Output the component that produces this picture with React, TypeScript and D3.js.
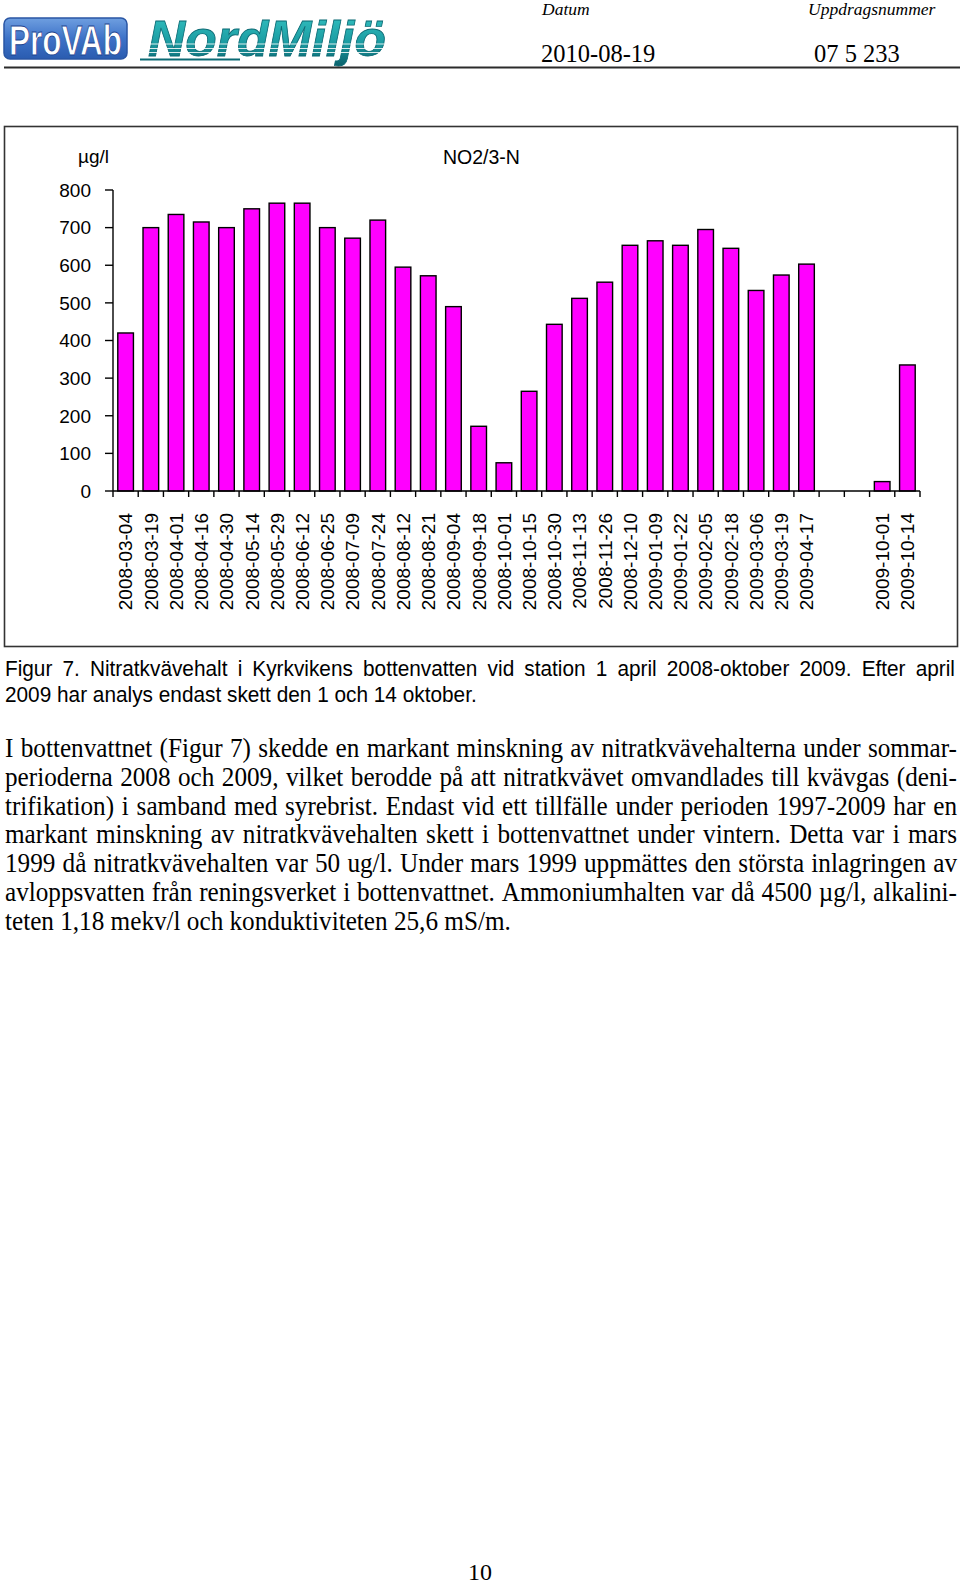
import React from 'react';
import * as d3 from 'd3';

// ---------- data ----------
const dates: string[] = [
  '2008-03-04', '2008-03-19', '2008-04-01', '2008-04-16', '2008-04-30', '2008-05-14',
  '2008-05-29', '2008-06-12', '2008-06-25', '2008-07-09', '2008-07-24', '2008-08-12',
  '2008-08-21', '2008-09-04', '2008-09-18', '2008-10-01', '2008-10-15', '2008-10-30',
  '2008-11-13', '2008-11-26', '2008-12-10', '2009-01-09', '2009-01-22', '2009-02-05',
  '2009-02-18', '2009-03-06', '2009-03-19', '2009-04-17', '', '', '2009-10-01', '2009-10-14',
];
const values: (number | null)[] = [
  420, 700, 735, 715, 700, 750, 765, 765, 700, 672, 720, 595, 572, 490, 172, 75,
  265, 443, 512, 555, 653, 665, 653, 695, 645, 533, 574, 603, null, null, 25, 335,
];
const yTicks: number[] = [0, 100, 200, 300, 400, 500, 600, 700, 800];
const yUnit = 'µg/l';
const chartTitle = 'NO2/3-N';

const headerLabels = ['Datum', 'Uppdragsnummer'];
const headerValues = ['2010-08-19', '07 5 233'];

const captionLines = [
  'Figur 7. Nitratkvävehalt i Kyrkvikens bottenvatten vid station 1 april 2008-oktober 2009. Efter april',
  '2009 har analys endast skett den 1 och 14 oktober.',
];
const bodyLines = [
  'I bottenvattnet (Figur 7) skedde en markant minskning av nitratkvävehalterna under sommar-',
  'perioderna 2008 och 2009, vilket berodde på att nitratkvävet omvandlades till kvävgas (deni-',
  'trifikation) i samband med syrebrist. Endast vid ett tillfälle under perioden 1997-2009 har en',
  'markant minskning av nitratkvävehalten skett i bottenvattnet under vintern. Detta var i mars',
  '1999 då nitratkvävehalten var 50 ug/l. Under mars 1999 uppmättes den största inlagringen av',
  'avloppsvatten från reningsverket i bottenvattnet. Ammoniumhalten var då 4500 µg/l, alkalini-',
  'teten 1,18 mekv/l och konduktiviteten 25,6 mS/m.',
];
const pageNumber = '10';

// ---------- helpers ----------
const SANS = "'Liberation Sans', Arial, Helvetica, sans-serif";
const SERIF = "'Liberation Serif', 'Times New Roman', serif";

let _ctx: CanvasRenderingContext2D | null = null;
function measure(text: string, font: string): number {
  if (!_ctx) _ctx = document.createElement('canvas').getContext('2d');
  _ctx!.font = font;
  return _ctx!.measureText(text).width;
}

function JustifiedLine(props: {
  text: string; x0: number; x1: number; y: number; size: number; family: string; justify: boolean; scaleY?: number;
}) {
  const { text, x0, x1, y, size, family, justify, scaleY = 1 } = props;
  const font = `${size}px ${family}`;
  const words = text.split(' ');
  const widths = words.map((w) => measure(w, font));
  const total = widths.reduce((a, b) => a + b, 0);
  const gap = justify && words.length > 1 ? (x1 - x0 - total) / (words.length - 1) : measure(' ', font);
  let cx = x0;
  const xs = widths.map((w) => {
    const p = cx;
    cx += w + gap;
    return p;
  });
  return (
    <text
      transform={`translate(0,${y}) scale(1,${scaleY})`}
      fontFamily={family}
      fontSize={size}
      fill="#000"
    >
      {words.map((w, i) => (
        <tspan key={i} x={xs[i]} y={0}>{w}</tspan>
      ))}
    </text>
  );
}

// ---------- chart geometry ----------
const X0 = 113;
const X1 = 920;
const Y0 = 491;
const Y1 = 190;

export default function App() {
  const n = dates.length;
  const x = d3.scaleBand<number>().domain(d3.range(n)).range([X0, X1]).paddingInner(0.38).paddingOuter(0.19);
  const y = d3.scaleLinear().domain([0, 800]).range([Y0, Y1]);
  const step = x.step();
  const boundaries = d3.range(n + 1).map((i) => X0 + i * step);

  return (
    <svg
      width={960}
      height={1584}
      viewBox="0 0 960 1584"
      style={{ position: 'absolute', left: 0, top: 0, background: '#fff' }}
    >
      <defs>
        <linearGradient id="provab" x1="0" y1="0" x2="0" y2="1">
          <stop offset="0" stopColor="#6f9fe0" />
          <stop offset="0.5" stopColor="#3d72c8" />
          <stop offset="1" stopColor="#2a5cb0" />
        </linearGradient>
        <linearGradient id="nord" x1="0" y1="0" x2="0" y2="1">
          <stop offset="0" stopColor="#35c3c3" />
          <stop offset="0.55" stopColor="#1c9da3" />
          <stop offset="1" stopColor="#0a5f6a" />
        </linearGradient>
      </defs>
      <rect x={0} y={0} width={960} height={1584} fill="#fff" />

      {/* ---------- header ---------- */}
      <g>
        <rect x={4} y={18} width={123} height={41} rx={6} fill="url(#provab)" stroke="#2a56a4" strokeWidth={1.5} />
        <text
          transform="translate(9,55) scale(1,1.4)"
          fontFamily="'Liberation Sans Narrow', 'Liberation Sans', sans-serif"
          fontWeight="bold"
          fontSize={30}
          fill="#fff"
          stroke="#1d4590"
          strokeWidth={0.6}
          textLength={113}
          lengthAdjust="spacingAndGlyphs"
        >
          ProVAb
        </text>
        <text
          x={148}
          y={56}
          fontFamily={SANS}
          fontWeight="bold"
          fontStyle="italic"
          fontSize={50}
          fill="url(#nord)"
          stroke="#0b6a74"
          strokeWidth={0.8}
          textLength={238}
          lengthAdjust="spacingAndGlyphs"
        >
          NordMiljö
        </text>
        {[44, 48.5, 52.5].map((yy, i) => (
          <line key={i} x1={146} x2={390} y1={yy} y2={yy} stroke="#ffffff" strokeWidth={1.1} opacity={0.85} />
        ))}
        <line x1={140} x2={240} y1={59.5} y2={59.5} stroke="#0b6a74" strokeWidth={2} />

        <text x={542} y={15} fontFamily={SERIF} fontStyle="italic" fontSize={17.5}>{headerLabels[0]}</text>
        <text x={808} y={15} fontFamily={SERIF} fontStyle="italic" fontSize={17.5}>{headerLabels[1]}</text>
        <text x={541} y={62} fontFamily={SERIF} fontSize={24.5}>{headerValues[0]}</text>
        <text x={814} y={62} fontFamily={SERIF} fontSize={24.5}>{headerValues[1]}</text>
        <line x1={4} x2={960} y1={67.5} y2={67.5} stroke="#2b2b2b" strokeWidth={2} />
      </g>

      {/* ---------- chart frame ---------- */}
      <rect x={4.5} y={126.5} width={953} height={520} fill="#fff" stroke="#333" strokeWidth={1.6} />

      <text x={78} y={163} fontFamily={SANS} fontSize={19} fill="#000">{yUnit}</text>
      <text x={443} y={164} fontFamily={SANS} fontSize={19.5} fill="#000">{chartTitle}</text>

      {/* bars */}
      <g>
        {values.map((v, i) =>
          v == null ? null : (
            <rect
              key={i}
              x={x(i)!}
              y={y(v)}
              width={x.bandwidth()}
              height={Y0 - y(v)}
              fill="#ff00ff"
              stroke="#000"
              strokeWidth={1.4}
            />
          )
        )}
      </g>

      {/* y axis */}
      <g>
        <line x1={X0} x2={X0} y1={Y1} y2={Y0} stroke="#000" strokeWidth={1.4} />
        {yTicks.map((t) => (
          <g key={t}>
            <line x1={X0 - 8} x2={X0} y1={y(t)} y2={y(t)} stroke="#000" strokeWidth={1.4} />
            <text x={91} y={y(t)} dy="0.36em" textAnchor="end" fontFamily={SANS} fontSize={19} fill="#000">
              {t}
            </text>
          </g>
        ))}
      </g>

      {/* x axis */}
      <g>
        <line x1={X0} x2={X1} y1={Y0} y2={Y0} stroke="#000" strokeWidth={1.4} />
        {boundaries.map((b, i) => (
          <line key={i} x1={b} x2={b} y1={Y0} y2={Y0 + 6} stroke="#000" strokeWidth={1.4} />
        ))}
        {dates.map((d, i) =>
          d === '' ? null : (
            <text
              key={i}
              transform={`translate(${x(i)! + x.bandwidth() / 2},513) rotate(-90)`}
              dy="0.36em"
              textAnchor="end"
              fontFamily={SANS}
              fontSize={19}
              fill="#000"
            >
              {d}
            </text>
          )
        )}
      </g>

      {/* ---------- caption ---------- */}
      {captionLines.map((l, i) => (
        <JustifiedLine
          key={i}
          text={l}
          x0={5}
          x1={955}
          y={676 + i * 26}
          size={20.8}
          family={SANS}
          justify={i < captionLines.length - 1}
          scaleY={1.05}
        />
      ))}

      {/* ---------- body text ---------- */}
      {bodyLines.map((l, i) => (
        <JustifiedLine
          key={i}
          text={l}
          x0={5}
          x1={957}
          y={757 + i * 28.8}
          size={25.2}
          family={SERIF}
          justify={i < bodyLines.length - 1}
          scaleY={1.09}
        />
      ))}

      <text x={480} y={1580} textAnchor="middle" fontFamily={SERIF} fontSize={24}>{pageNumber}</text>
    </svg>
  );
}
